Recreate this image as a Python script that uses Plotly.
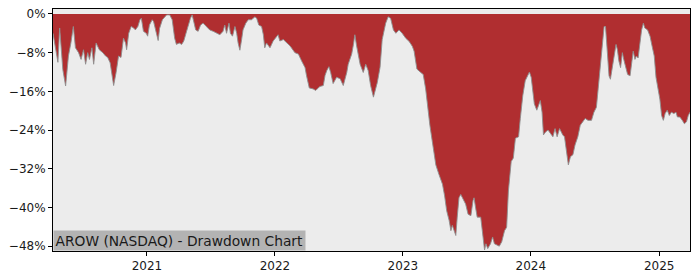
import plotly.graph_objects as go

# Drawdown (%) of AROW (NASDAQ)
dates_2020 = ["2020-04-08", "2020-04-13", "2020-04-19", "2020-04-22", "2020-04-27", "2020-05-06", "2020-05-14",
              "2020-05-22", "2020-05-29", "2020-06-05", "2020-06-11", "2020-06-20", "2020-06-27", "2020-07-04",
              "2020-07-10", "2020-07-16", "2020-07-21", "2020-07-28", "2020-08-02", "2020-08-09", "2020-08-18",
              "2020-08-28", "2020-09-05", "2020-09-11", "2020-09-18", "2020-09-23", "2020-09-28", "2020-10-05",
              "2020-10-12", "2020-10-19", "2020-10-26", "2020-11-01", "2020-11-04", "2020-11-10", "2020-11-17",
              "2020-11-24", "2020-11-29", "2020-12-06", "2020-12-12", "2020-12-16", "2020-12-22", "2020-12-30"]
dd_2020 = [-4.0, -6.3, -9.4, -10.0, -2.9, -11.5, -14.9,
           -8.7, -6.0, -2.6, -7.0, -8.0, -9.4, -7.4,
           -10.4, -8.0, -9.4, -7.0, -10.4, -6.0, -7.4,
           -8.0, -8.7, -9.0, -10.1, -12.1, -14.8, -12.1,
           -8.7, -9.0, -5.0, -6.0, -7.4, -4.0, -2.6,
           -2.9, -3.3, -2.6, -1.2, -0.9, -3.6, -4.0]

dates_2021 = ["2021-01-03", "2021-01-08", "2021-01-16", "2021-01-20", "2021-01-27", "2021-02-02", "2021-02-06",
              "2021-02-14", "2021-02-26", "2021-03-07", "2021-03-14", "2021-03-21", "2021-03-26", "2021-04-03",
              "2021-04-10", "2021-04-16", "2021-04-24", "2021-04-28", "2021-05-05", "2021-05-10", "2021-05-15",
              "2021-05-20", "2021-05-27", "2021-06-03", "2021-06-10", "2021-06-20", "2021-06-29", "2021-07-09",
              "2021-07-19", "2021-07-28", "2021-08-06", "2021-08-11", "2021-08-16", "2021-08-23", "2021-08-27",
              "2021-09-02", "2021-09-09", "2021-09-14", "2021-09-18", "2021-09-23", "2021-09-28", "2021-10-02",
              "2021-10-10", "2021-10-17", "2021-10-26", "2021-11-05", "2021-11-10", "2021-11-16", "2021-11-24",
              "2021-11-29", "2021-12-03", "2021-12-08", "2021-12-18", "2021-12-27"]
dd_2021 = [-4.6, -2.3, -1.2, -1.6, -4.0, -5.5, -3.0,
           -1.2, -0.2, -0.2, -1.2, -5.0, -6.3, -6.0,
           -6.3, -5.6, -3.6, -2.6, -0.9, -0.2, -1.6,
           -3.3, -3.6, -2.3, -1.9, -2.6, -3.3, -3.6,
           -4.0, -4.3, -3.6, -2.3, -4.0, -1.9, -4.0,
           -4.6, -2.6, -4.0, -6.0, -7.5, -5.3, -3.3,
           -1.9, -1.2, -1.2, -0.6, -0.9, -2.3, -2.6,
           -4.3, -7.0, -6.0, -7.0, -5.6]

dates_2022 = ["2022-01-10", "2022-01-15", "2022-01-25", "2022-02-03", "2022-02-13", "2022-02-27", "2022-03-09",
              "2022-03-18", "2022-03-28", "2022-04-01", "2022-04-09", "2022-04-20", "2022-04-27", "2022-05-05",
              "2022-05-09", "2022-05-19", "2022-05-24", "2022-05-29", "2022-06-04", "2022-06-09", "2022-06-16",
              "2022-06-26", "2022-07-06", "2022-07-15", "2022-07-25", "2022-07-29", "2022-08-08", "2022-08-13",
              "2022-08-17", "2022-08-22", "2022-09-01", "2022-09-10", "2022-09-17", "2022-09-24", "2022-10-01",
              "2022-10-09", "2022-10-20", "2022-10-28", "2022-11-03", "2022-11-13", "2022-11-20", "2022-11-27",
              "2022-12-05", "2022-12-12", "2022-12-21", "2022-12-30"]
dd_2022 = [-4.3, -5.6, -5.3, -5.9, -6.6, -8.0, -8.3,
           -9.7, -11.1, -12.7, -15.3, -15.5, -15.8, -15.3,
           -15.0, -14.8, -12.7, -11.7, -10.9, -12.1, -14.4,
           -13.1, -13.4, -14.8, -12.1, -10.4, -8.3, -6.3,
           -4.3, -6.6, -10.4, -12.1, -10.4, -11.7, -14.8,
           -17.2, -14.2, -11.0, -5.3, -1.9, -0.6, -0.9,
           -3.3, -4.0, -3.3, -4.0]

dates_2023 = ["2023-01-09", "2023-01-19", "2023-01-28", "2023-02-02", "2023-02-10", "2023-02-21", "2023-02-28",
              "2023-03-07", "2023-03-12", "2023-03-19", "2023-03-26", "2023-03-31", "2023-04-05", "2023-04-14",
              "2023-04-24", "2023-04-30", "2023-05-06", "2023-05-13", "2023-05-18", "2023-05-22", "2023-05-27",
              "2023-06-01", "2023-06-05", "2023-06-10", "2023-06-15", "2023-06-23", "2023-06-29", "2023-07-06",
              "2023-07-14", "2023-07-20", "2023-07-23", "2023-07-28", "2023-08-01", "2023-08-11", "2023-08-17",
              "2023-08-22", "2023-08-26", "2023-08-31", "2023-09-08", "2023-09-14", "2023-09-19", "2023-09-27",
              "2023-10-03", "2023-10-10", "2023-10-18", "2023-10-24", "2023-10-29", "2023-11-06", "2023-11-12",
              "2023-11-18", "2023-11-27", "2023-12-02", "2023-12-09", "2023-12-16", "2023-12-23", "2023-12-28"]
dd_2023 = [-5.0, -5.7, -6.7, -7.7, -11.4, -12.1, -12.5,
           -15.5, -18.9, -23.0, -26.4, -28.4, -31.2, -33.2,
           -35.2, -37.6, -40.7, -42.7, -44.8, -43.7, -44.8,
           -45.8, -42.0, -38.0, -37.3, -38.6, -39.3, -41.4,
           -41.7, -38.6, -38.0, -40.3, -42.0, -42.0, -46.1,
           -48.8, -47.5, -48.5, -47.5, -46.1, -47.5, -47.8,
           -48.0, -47.1, -44.8, -44.1, -36.6, -30.5, -29.8,
           -25.7, -25.4, -21.6, -16.9, -13.8, -12.8, -12.0]

dates_2024 = ["2024-01-02", "2024-01-07", "2024-01-11", "2024-01-18", "2024-01-24", "2024-01-28", "2024-02-02",
              "2024-02-06", "2024-02-12", "2024-02-19", "2024-02-26", "2024-03-04", "2024-03-10", "2024-03-16",
              "2024-03-23", "2024-03-27", "2024-04-01", "2024-04-06", "2024-04-11", "2024-04-17", "2024-04-23",
              "2024-04-30", "2024-05-06", "2024-05-14", "2024-05-21", "2024-05-28", "2024-06-04", "2024-06-12",
              "2024-06-22", "2024-06-29", "2024-07-06", "2024-07-11", "2024-07-16", "2024-07-21", "2024-07-25",
              "2024-07-28", "2024-08-01", "2024-08-04", "2024-08-07", "2024-08-11", "2024-08-15", "2024-08-20",
              "2024-08-26", "2024-08-31", "2024-09-04", "2024-09-08", "2024-09-13", "2024-09-18", "2024-09-22",
              "2024-09-27", "2024-10-03", "2024-10-10", "2024-10-14", "2024-10-19", "2024-10-24", "2024-10-28",
              "2024-11-02", "2024-11-07", "2024-11-12", "2024-11-17", "2024-11-21", "2024-11-29", "2024-12-06",
              "2024-12-12", "2024-12-18", "2024-12-23", "2024-12-29"]
dd_2024 = [-13.1, -15.9, -18.6, -19.9, -18.9, -17.9, -20.3,
           -25.0, -24.4, -24.0, -24.7, -25.4, -23.7, -25.4,
           -23.7, -24.4, -25.0, -25.4, -27.8, -31.2, -29.5,
           -29.1, -27.1, -25.4, -23.0, -22.3, -21.6, -22.0,
           -22.0, -20.3, -19.3, -15.5, -12.1, -8.7, -4.6,
           -2.6, -2.6, -6.0, -9.4, -12.8, -13.5, -11.1,
           -8.0, -6.3, -7.4, -9.7, -11.1, -8.0, -9.4,
           -11.1, -12.5, -12.8, -10.4, -7.7, -9.4, -8.7,
           -9.1, -6.0, -3.3, -1.9, -2.9, -3.3, -4.6,
           -6.7, -8.7, -13.1, -15.5]

dates_2025 = ["2025-01-03", "2025-01-08", "2025-01-13", "2025-01-18", "2025-01-24", "2025-01-30", "2025-02-05",
              "2025-02-12", "2025-02-18", "2025-02-22", "2025-03-01", "2025-03-08", "2025-03-14", "2025-03-20",
              "2025-03-25", "2025-03-30"]
dd_2025 = [-17.6, -21.0, -22.0, -20.6, -19.9, -21.0, -20.3,
           -20.6, -20.3, -21.3, -21.3, -22.0, -22.7, -22.3,
           -21.0, -20.3]

y_tick_values = [0, -8, -16, -24, -32, -40, -48]
y_tick_labels = ["0%", "\u22128%", "\u221216%", "\u221224%", "\u221232%", "\u221240%", "\u221248%"]
x_tick_values = ["2021-01-01", "2022-01-01", "2023-01-01", "2024-01-01", "2025-01-01"]
x_tick_labels = ["2021", "2022", "2023", "2024", "2025"]
title_text = "AROW (NASDAQ) - Drawdown Chart"

dates = dates_2020 + dates_2021 + dates_2022 + dates_2023 + dates_2024 + dates_2025
drawdown = dd_2020 + dd_2021 + dd_2022 + dd_2023 + dd_2024 + dd_2025

font_family = "DejaVu Sans"

fig = go.Figure()
fig.add_trace(go.Scatter(
    x=dates, y=drawdown, mode="lines", fill="tozeroy",
    fillcolor="#b02e30", line=dict(color="#8f8f8f", width=0.9),
    hoverinfo="skip", showlegend=False,
))

axis_common = dict(
    showline=True, linecolor="black", linewidth=1, mirror=True,
    ticks="outside", ticklen=4, tickwidth=1, tickcolor="black",
    showgrid=False, zeroline=False,
    tickfont=dict(family=font_family, size=12, color="#1a1a1a"),
)

fig.update_xaxes(range=[dates[0], dates[-1]], tickvals=x_tick_values, ticktext=x_tick_labels,
                 **axis_common)
fig.update_yaxes(range=[-49.0, 1.02], tickvals=y_tick_values, ticktext=y_tick_labels,
                 **axis_common)

fig.add_annotation(
    text=title_text, xref="paper", yref="paper", x=0, y=0,
    xanchor="left", yanchor="bottom", showarrow=False,
    bgcolor="#b3b3b3", borderpad=1.5,
    font=dict(family=font_family, size=13.8, color="#1a1a1a"),
)

fig.update_layout(
    width=700, height=280,
    margin=dict(l=53, r=10, t=7, b=28),
    paper_bgcolor="white", plot_bgcolor="#ececec",
)

fig.write_html("out.html", config={"displayModeBar": False})
